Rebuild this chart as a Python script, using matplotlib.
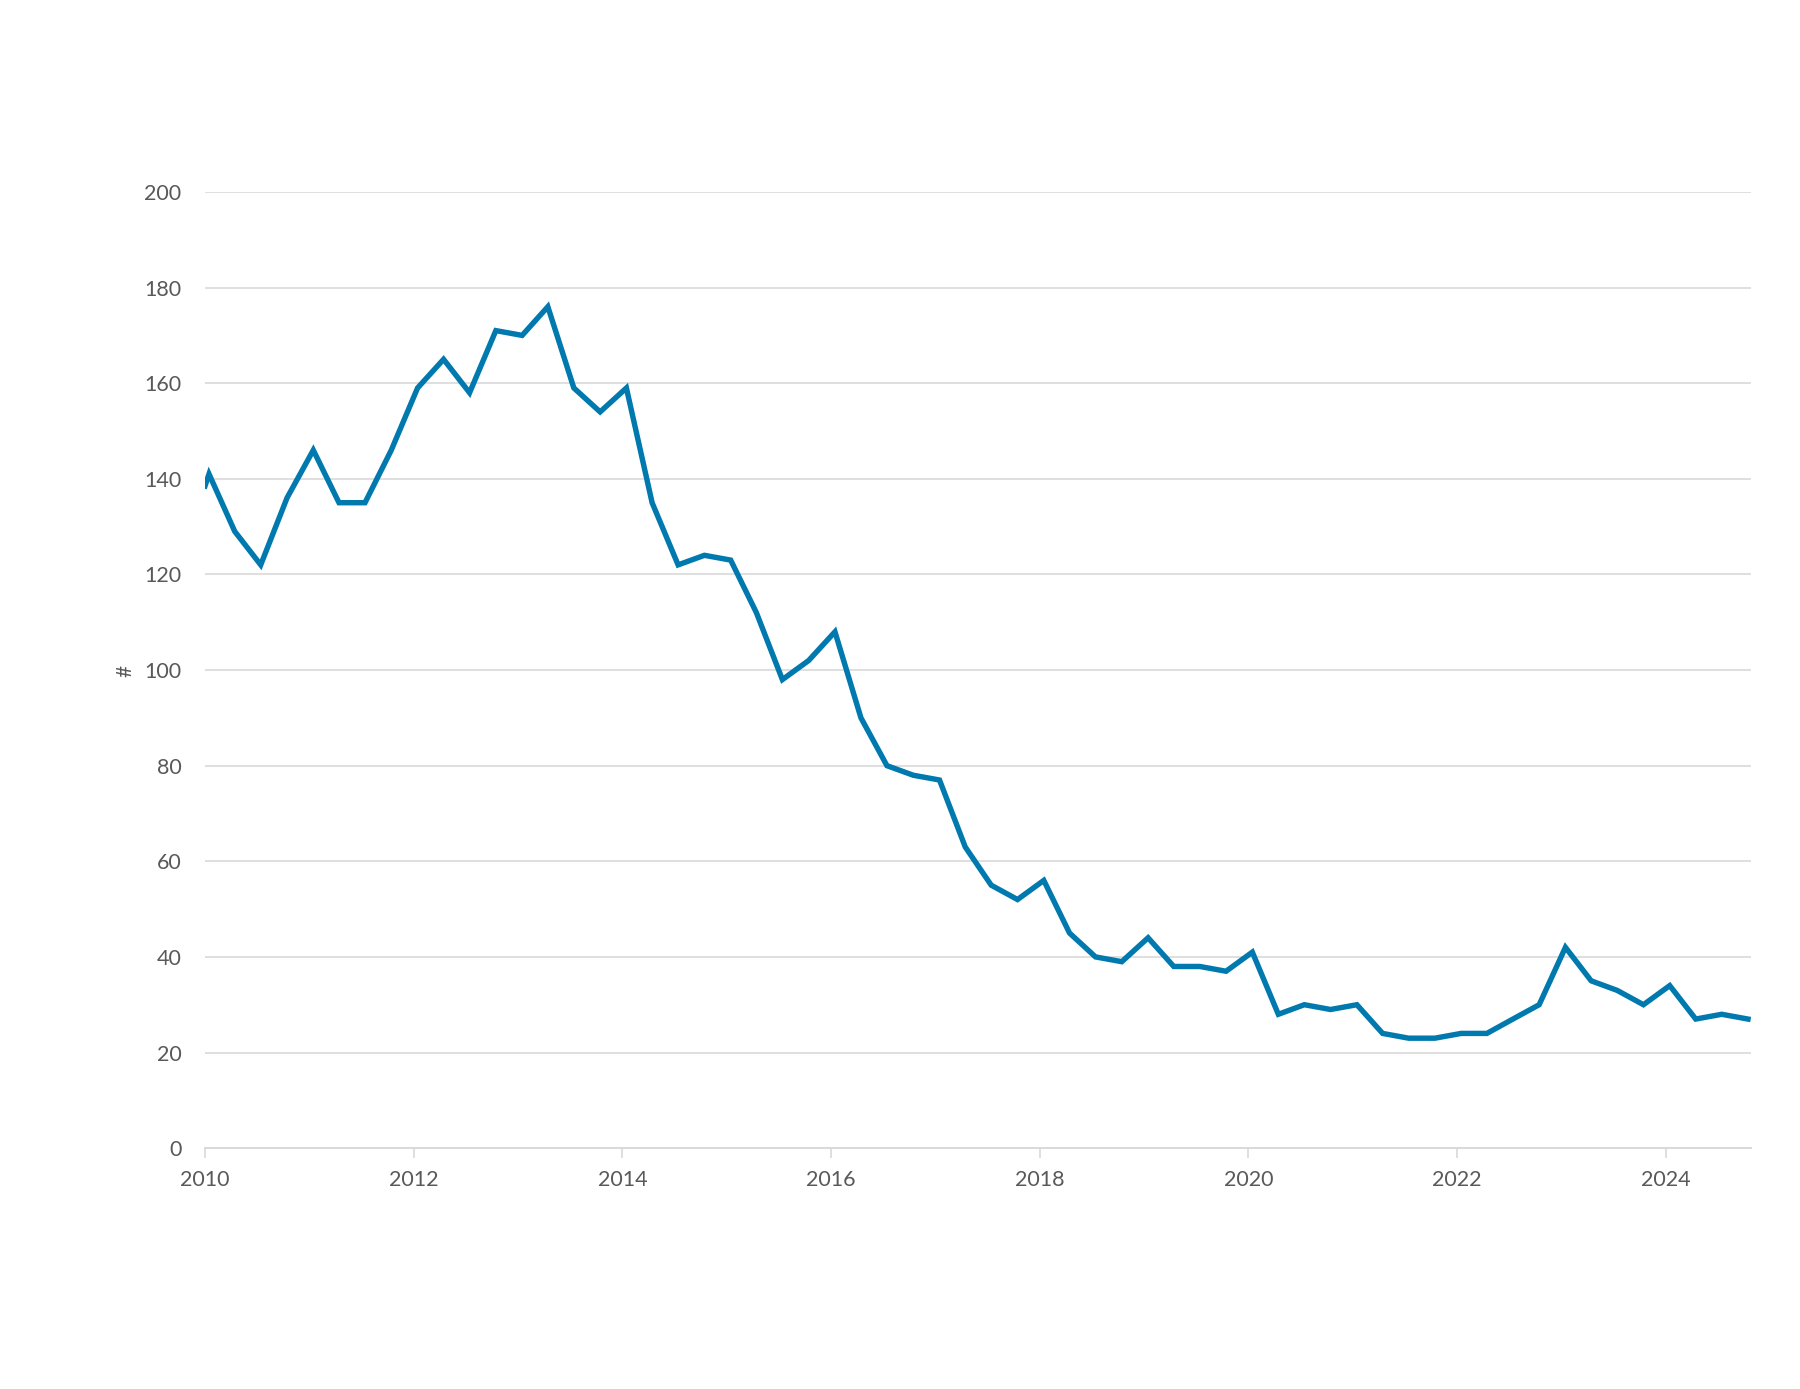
import matplotlib
matplotlib.use("Agg")
import matplotlib.pyplot as plt
import matplotlib.dates as mdates
import pandas as pd

# Série trimestral (valor lido no dia 15 do primeiro mês de cada trimestre)
anos = list(range(2010, 2025))
valores = [
    141, 129, 122, 136,   # 2010
    146, 135, 135, 146,   # 2011
    159, 165, 158, 171,   # 2012
    170, 176, 159, 154,   # 2013
    159, 135, 122, 124,   # 2014
    123, 112, 98, 102,    # 2015
    108, 90, 80, 78,      # 2016
    77, 63, 55, 52,       # 2017
    56, 45, 40, 39,       # 2018
    44, 38, 38, 37,       # 2019
    41, 28, 30, 29,       # 2020
    30, 24, 23, 23,       # 2021
    24, 24, 27, 30,       # 2022
    42, 35, 33, 30,       # 2023
    34, 27, 28, 27,       # 2024
]
# ponto inicial em 1 de janeiro de 2010 (pequeno "gancho" no início da linha)
valor_inicial = 138.5

datas = pd.date_range(f"{anos[0]}-01-01", f"{anos[-1]}-10-01", freq="QS") + pd.Timedelta(days=14)
datas = [pd.Timestamp(f"{anos[0]}-01-01")] + list(datas)
serie = [valor_inicial] + valores

COR_LINHA = "#0079AE"
COR_GRADE = "#D9D9D9"
COR_TEXTO = "#595959"

plt.rcParams["font.family"] = ["Lato", "DejaVu Sans"]

fig = plt.figure(figsize=(18, 13.89), dpi=100)
ax = fig.add_axes([0.1139, 0.1734, 0.8588, 0.6884])

ax.plot(datas, serie, color=COR_LINHA, linewidth=3.9, solid_joinstyle="miter", zorder=3)

ax.set_ylim(0, 200)
ax.set_yticks(range(0, 201, 20))
ax.set_xlim(pd.Timestamp("2010-01-01"), pd.Timestamp("2024-10-25"))
ax.xaxis.set_major_locator(mdates.YearLocator(2))
ax.xaxis.set_major_formatter(mdates.DateFormatter("%Y"))

ax.grid(axis="y", color=COR_GRADE, linewidth=1.2, zorder=0)
ax.grid(axis="x", visible=False)

for lado in ["top", "right", "left"]:
    ax.spines[lado].set_visible(False)
ax.spines["bottom"].set_color(COR_GRADE)
ax.spines["bottom"].set_linewidth(1.4)

ax.tick_params(axis="y", length=0, pad=17, labelsize=15.5, labelcolor=COR_TEXTO)
ax.tick_params(axis="x", length=7, width=1.2, color=COR_GRADE, pad=9,
               labelsize=15.5, labelcolor=COR_TEXTO)

fig.text(125 / 1800, 0.517, "#", rotation=90, ha="center", va="center",
         fontsize=15, color=COR_TEXTO)

fig.savefig("out.png", dpi=100, facecolor="white")
plt.close(fig)
